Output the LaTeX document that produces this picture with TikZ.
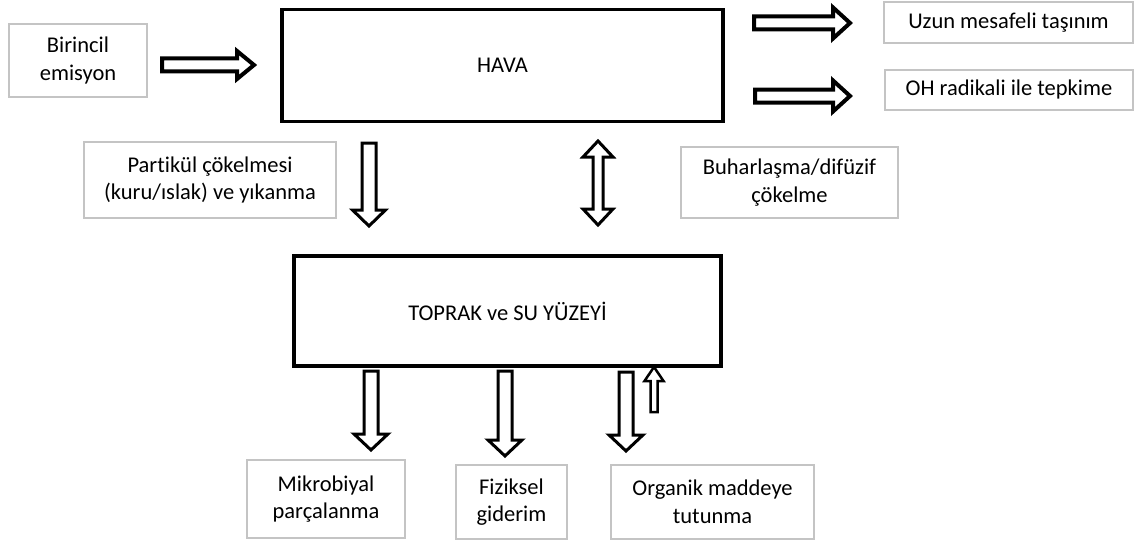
\documentclass[tikz,border=0pt]{standalone}
\usepackage{fontspec}
\setmainfont{Carlito}[Ligatures=NoCommon]
\usetikzlibrary{calc}
\definecolor{boxgray}{RGB}{196,196,196}
\newcommand\labelfont{\fontsize{22.5}{27.5}\selectfont}
\tikzset{
  graybox/.style={draw=boxgray, line width=1.3pt, fill=white, align=center, inner sep=0pt, font=\labelfont},
  mainbox/.style={draw=black, line width=3.5pt, align=center, inner sep=0pt, font=\labelfont},
  barrow/.style={draw=black, fill=white, line join=miter, miter limit=10},
}
% #1 line width, #2 start, #3 tip, #4 half shaft, #5 half head, #6 head length
\newcommand\blockarrow[6][3pt]{%
  \path ($(#3)!#6!(#2)$) coordinate (bah);
  \draw[barrow, line width=#1] ($(#2)!#4!90:(#3)$) -- ($(bah)!#4!-90:(#2)$) -- ($(bah)!#5!-90:(#2)$) -- (#3)
     -- ($(bah)!#5!90:(#2)$) -- ($(bah)!#4!90:(#2)$) -- ($(#2)!#4!-90:(#3)$) -- cycle;}
\newcommand\dblarrow[6][3pt]{%
  \path ($(#3)!#6!(#2)$) coordinate (bah) ($(#2)!#6!(#3)$) coordinate (bat);
  \draw[barrow, line width=#1] (#2) -- ($(bat)!#5!90:(#3)$) -- ($(bat)!#4!90:(#3)$) -- ($(bah)!#4!-90:(#2)$)
     -- ($(bah)!#5!-90:(#2)$) -- (#3) -- ($(bah)!#5!90:(#2)$) -- ($(bah)!#4!90:(#2)$)
     -- ($(bat)!#4!-90:(#3)$) -- ($(bat)!#5!-90:(#3)$) -- cycle;}
\begin{document}
\begin{tikzpicture}[x=1pt, y=-1pt]
\useasboundingbox[fill=white] (0,0) rectangle (1138,543);

% boxes
\node[graybox, minimum width=138pt, minimum height=73pt] (birincil) at (78,60.5) {Birincil\\emisyon};
\node[mainbox, minimum width=441pt, minimum height=112pt] (hava) at (502.5,65.5) {HAVA};
\node[graybox, minimum width=249pt, minimum height=41pt] (uzun) at (1008.5,22.5) {Uzun mesafeli taşınım};
\node[graybox, minimum width=248pt, minimum height=40pt] (oh) at (1009,90) {OH radikali ile tepkime};
\node[graybox, minimum width=252pt, minimum height=76pt] (partikul) at (210,180) {Partikül çökelmesi\\(kuru/ıslak) ve yıkanma};
\node[graybox, minimum width=217pt, minimum height=71pt] (buhar) at (789.5,182.5) {Buharlaşma/difüzif\\çökelme};
\node[mainbox, minimum width=427pt, minimum height=110pt] (toprak) at (507.5,311) {TOPRAK ve SU YÜZEYİ};
\node[graybox, minimum width=158pt, minimum height=78pt] (mikro) at (326,499) {Mikrobiyal\\parçalanma};
\node[graybox, minimum width=111pt, minimum height=74pt] (fizik) at (511.5,502) {Fiziksel\\giderim};
\node[graybox, minimum width=203pt, minimum height=74pt] (organik) at (712.5,502) {Organik maddeye\\tutunma};

% arrow end points
\coordinate (a1s) at (162,65);  \coordinate (a1e) at (254,65);
\coordinate (a2s) at (754,23);  \coordinate (a2e) at (850,23);
\coordinate (a3s) at (755,96);  \coordinate (a3e) at (850,96);
\coordinate (p1s) at (369,143); \coordinate (p1e) at (369,226);
\coordinate (d1s) at (598,141); \coordinate (d1e) at (598,225);
\coordinate (b1s) at (371,371); \coordinate (b1e) at (371,450);
\coordinate (b2s) at (505,371); \coordinate (b2e) at (505,456);
\coordinate (b3s) at (626,372); \coordinate (b3e) at (626,451);
\coordinate (u1s) at (654,412); \coordinate (u1e) at (654,367);

% block arrows
\blockarrow[4pt]{a1s}{a1e}{6.5pt}{14pt}{17pt}
\blockarrow[4pt]{a2s}{a2e}{6.5pt}{15.5pt}{17pt}
\blockarrow[4pt]{a3s}{a3e}{6.5pt}{15.5pt}{17pt}
\blockarrow[3pt]{p1s}{p1e}{7pt}{16.5pt}{16pt}
\dblarrow[3pt]{d1s}{d1e}{5pt}{15pt}{16pt}
\blockarrow[3pt]{b1s}{b1e}{7pt}{17pt}{16pt}
\blockarrow[3pt]{b2s}{b2e}{7pt}{17pt}{16pt}
\blockarrow[3pt]{b3s}{b3e}{7pt}{17pt}{16pt}
\blockarrow[2.5pt]{u1s}{u1e}{3.5pt}{9.5pt}{14pt}
\end{tikzpicture}
\end{document}
